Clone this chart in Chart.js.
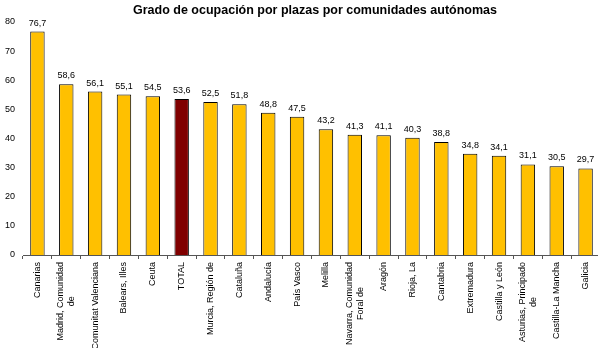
<!DOCTYPE html>
<html>
<head>
<meta charset="utf-8">
<script src="https://cdn.jsdelivr.net/npm/chart.js@4/dist/chart.umd.min.js"></script>
<style>
  html, body { margin: 0; padding: 0; background: #fff; overflow: hidden; }
  #wrap { width: 600px; height: 348px; }
</style>
</head>
<body>
<div id="wrap"><canvas id="chart"></canvas></div>
<script>
// chart data
const titleText = 'Grado de ocupación por plazas por comunidades autónomas';
const categories = [
  'Canarias', ['Madrid, Comunidad', 'de'], 'Comunitat Valenciana', 'Balears, Illes', 'Ceuta',
  'TOTAL', 'Murcia, Región de', 'Cataluña', 'Andalucía', 'País Vasco', 'Melilla',
  ['Navarra, Comunidad', 'Foral de'], 'Aragón', 'Rioja, La', 'Cantabria', 'Extremadura',
  'Castilla y León', ['Asturias, Principado', 'de'], 'Castilla-La Mancha', 'Galicia'
];
const values = [76.7, 58.6, 56.1, 55.1, 54.5, 53.6, 52.5, 51.8, 48.8, 47.5, 43.2,
  41.3, 41.1, 40.3, 38.8, 34.8, 34.1, 31.1, 30.5, 29.7];
const yTicks = [0, 10, 20, 30, 40, 50, 60, 70, 80];

const FONT = 'Liberation Sans, Arial, sans-serif';

// bar colours: TOTAL in dark red, rest in gold
const barColors = categories.map(c => c === 'TOTAL' ? '#800000' : '#FFC000');

// value labels, rotated category labels (extra lines centred) and title
const labelPlugin = {
  id: 'labels',
  afterDraw(chart) {
    const ctx = chart.ctx;
    const meta = chart.getDatasetMeta(0);
    const xScale = chart.scales.x;
    ctx.save();
    ctx.font = '9px ' + FONT;
    ctx.fillStyle = '#000';
    ctx.textAlign = 'center';
    ctx.textBaseline = 'bottom';
    meta.data.forEach((bar, i) => {
      ctx.fillText(values[i].toFixed(1).replace('.', ','), bar.x, bar.y - 4);
    });

    // category labels, vertical, reading bottom to top
    ctx.textBaseline = 'middle';
    const lineH = 11;
    categories.forEach((c, i) => {
      const lines = Array.isArray(c) ? c : [c];
      const x = xScale.getPixelForTick(i);
      const y = xScale.top + 7;
      const w0 = ctx.measureText(lines[0]).width;
      ctx.save();
      ctx.translate(x - (lines.length - 1) * lineH / 2, y);
      ctx.rotate(-Math.PI / 2);
      ctx.textAlign = 'right';
      ctx.fillText(lines[0], 0, 0);
      ctx.textAlign = 'center';
      for (let k = 1; k < lines.length; k++) {
        ctx.fillText(lines[k], -w0 / 2, k * lineH);
      }
      ctx.restore();
    });

    ctx.font = 'bold 12.5px ' + FONT;
    ctx.textAlign = 'center';
    ctx.textBaseline = 'middle';
    ctx.fillText(titleText, 315, 11);
    ctx.restore();
  }
};

new Chart(document.getElementById('chart'), {
  type: 'bar',
  data: {
    labels: categories,
    datasets: [{
      data: values,
      backgroundColor: barColors,
      borderColor: '#000',
      borderWidth: 1,
      barPercentage: 0.5,
      categoryPercentage: 1
    }]
  },
  options: {
    responsive: true,
    maintainAspectRatio: false,
    animation: false,
    layout: { padding: { top: 22, right: 0, left: 0, bottom: 0 } },
    plugins: {
      legend: { display: false },
      title: { display: false },
      tooltip: { enabled: false }
    },
    scales: {
      x: {
        grid: {
          display: true,
          drawOnChartArea: false,
          drawTicks: true,
          tickLength: 4,
          color: '#555'
        },
        border: { display: true, color: '#555' },
        ticks: { display: false, autoSkip: false },
        afterFit(scale) { scale.height = 93; }
      },
      y: {
        min: 0,
        max: 80,
        grid: { display: false, drawTicks: false, tickLength: 0 },
        border: { display: false },
        afterBuildTicks(scale) { scale.ticks = yTicks.map(v => ({ value: v })); },
        ticks: {
          padding: 8,
          color: '#000',
          font: { family: FONT, size: 9 }
        },
        afterFit(scale) { scale.width = 23; }
      }
    }
  },
  plugins: [labelPlugin]
});
</script>
</body>
</html>
